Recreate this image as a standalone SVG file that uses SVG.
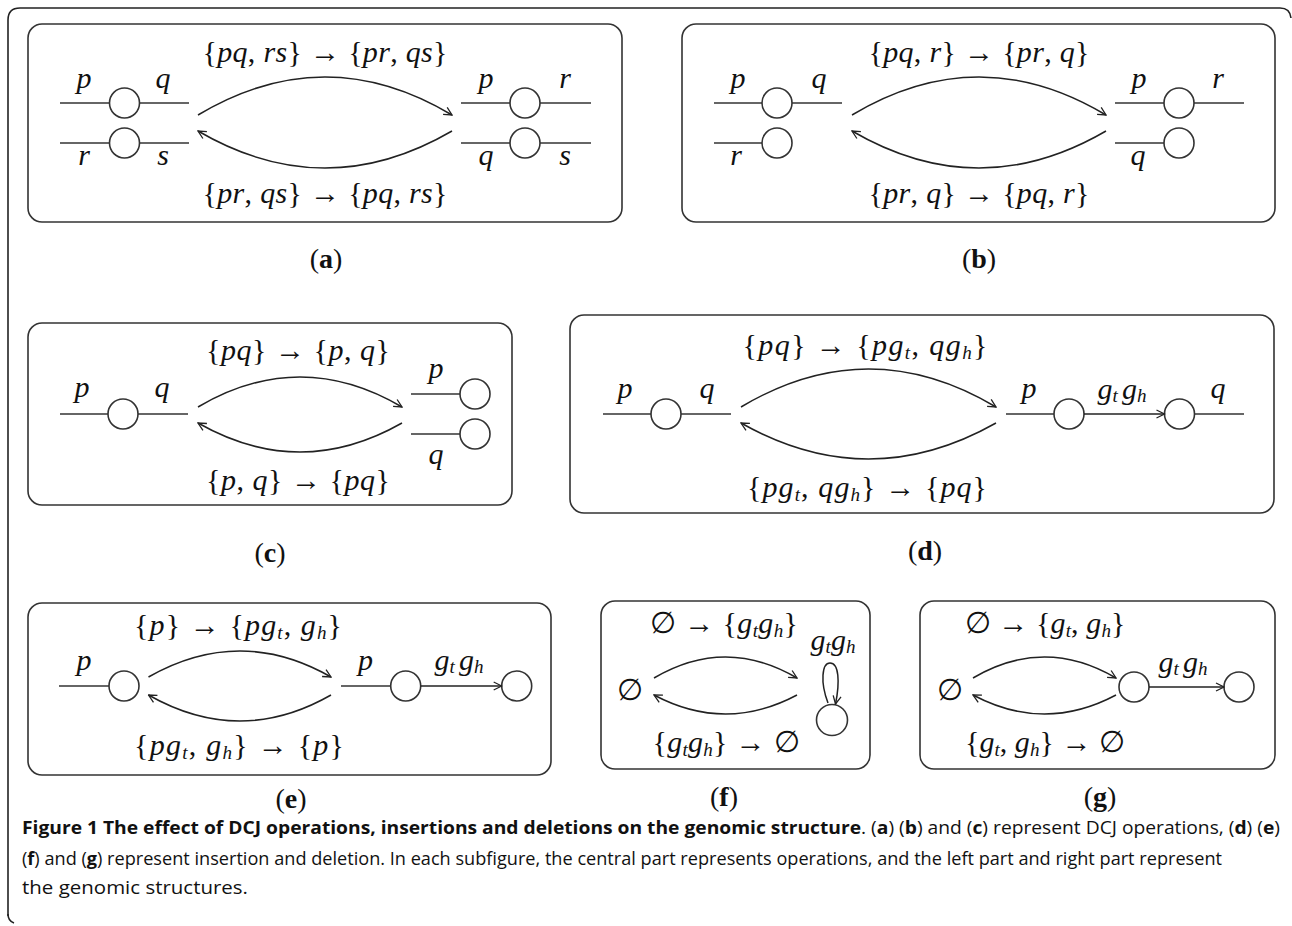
<svg xmlns="http://www.w3.org/2000/svg" width="1292" height="926" viewBox="0 0 1292 926">
<style>
.frame{fill:none;stroke:#222;stroke-width:1.6}
.box{fill:none;stroke:#333;stroke-width:1.6}
.ln{stroke:#333;stroke-width:1.6;fill:none}
.nd{fill:#fff;stroke:#333;stroke-width:1.6}
.arc{fill:none;stroke:#222;stroke-width:1.5}
.m{font-family:"Liberation Serif",serif;font-size:30px;fill:#111}
.v{font-family:"Liberation Serif",serif;font-size:30px;font-style:italic;fill:#111;text-anchor:middle}
.i{font-style:italic}
.sub{font-size:19px}
.lab{font-family:"Liberation Serif",serif;font-size:28px;fill:#111;text-anchor:middle}
.cap{font-family:"Open Sans","Liberation Sans",sans-serif;font-size:18px;fill:#111}
.b{font-weight:bold}
</style>
<defs>
<marker id="arr" viewBox="0 0 10 10" refX="9" refY="5" markerWidth="10" markerHeight="10" markerUnits="userSpaceOnUse" orient="auto">
<path d="M1,1 L9,5 L1,9" fill="none" stroke="#222" stroke-width="1.3"/>
</marker>
</defs>

<path class="frame" d="M8,916 L8,20 Q8,8 20,8 L1280,8 Q1290,8 1291,18"/>
<path class="frame" d="M8,914 Q8,921 14,923"/>

<!-- (a) -->
<g id="panel-a">
<rect class="box" x="28" y="24" width="594" height="198" rx="14"/>
<g id="a-left-top"><line class="ln" x1="60" y1="103" x2="189" y2="103"/><circle class="nd" cx="124.5" cy="103" r="15"/><text class="v" x="84" y="88">p</text><text class="v" x="163" y="88">q</text></g>
<g id="a-left-bot"><line class="ln" x1="60" y1="143" x2="189" y2="143"/><circle class="nd" cx="124.5" cy="143" r="15"/><text class="v" x="84" y="165">r</text><text class="v" x="163" y="165">s</text></g>
<g id="a-right-top"><line class="ln" x1="461" y1="103" x2="591" y2="103"/><circle class="nd" cx="525" cy="103" r="15"/><text class="v" x="486" y="88">p</text><text class="v" x="565" y="88">r</text></g>
<g id="a-right-bot"><line class="ln" x1="461" y1="143" x2="591" y2="143"/><circle class="nd" cx="525" cy="143" r="15"/><text class="v" x="486" y="165">q</text><text class="v" x="565" y="165">s</text></g>
<g id="a-connectors">
<path class="arc" d="M198,115 Q325,39 452,115" marker-end="url(#arr)"/>
<path class="arc" d="M452,131 Q325,205 198,131" marker-end="url(#arr)"/>
</g>
<text class="m" x="325" y="62" text-anchor="middle" textLength="245">{<tspan class="i">pq</tspan>, <tspan class="i">rs</tspan>} → {<tspan class="i">pr</tspan>, <tspan class="i">qs</tspan>}</text>
<text class="m" x="325" y="203" text-anchor="middle" textLength="245">{<tspan class="i">pr</tspan>, <tspan class="i">qs</tspan>} → {<tspan class="i">pq</tspan>, <tspan class="i">rs</tspan>}</text>
<text class="lab" x="326" y="268">(<tspan class="b">a</tspan>)</text>
</g>

<!-- (b) -->
<g id="panel-b">
<rect class="box" x="682" y="24" width="593" height="198" rx="14"/>
<g id="b-left-top"><line class="ln" x1="714" y1="103" x2="842" y2="103"/><circle class="nd" cx="777" cy="103" r="15"/><text class="v" x="738" y="88">p</text><text class="v" x="819" y="88">q</text></g>
<g id="b-left-bot"><line class="ln" x1="714" y1="143" x2="777" y2="143"/><circle class="nd" cx="777" cy="143" r="15"/><text class="v" x="736" y="165">r</text></g>
<g id="b-right-top"><line class="ln" x1="1115" y1="103" x2="1244" y2="103"/><circle class="nd" cx="1179" cy="103" r="15"/><text class="v" x="1139" y="88">p</text><text class="v" x="1218" y="88">r</text></g>
<g id="b-right-bot"><line class="ln" x1="1115" y1="143" x2="1179" y2="143"/><circle class="nd" cx="1179" cy="143" r="15"/><text class="v" x="1138" y="165">q</text></g>
<g id="b-connectors">
<path class="arc" d="M852,115 Q979,39 1106,115" marker-end="url(#arr)"/>
<path class="arc" d="M1106,131 Q979,205 852,131" marker-end="url(#arr)"/>
</g>
<text class="m" x="979" y="62" text-anchor="middle" textLength="221">{<tspan class="i">pq</tspan>, <tspan class="i">r</tspan>} → {<tspan class="i">pr</tspan>, <tspan class="i">q</tspan>}</text>
<text class="m" x="979" y="203" text-anchor="middle" textLength="221">{<tspan class="i">pr</tspan>, <tspan class="i">q</tspan>} → {<tspan class="i">pq</tspan>, <tspan class="i">r</tspan>}</text>
<text class="lab" x="979" y="268">(<tspan class="b">b</tspan>)</text>
</g>

<!-- (c) -->
<g id="panel-c">
<rect class="box" x="28" y="323" width="484" height="182" rx="14"/>
<g id="c-left"><line class="ln" x1="60" y1="414" x2="188" y2="414"/><circle class="nd" cx="123" cy="414" r="15"/><text class="v" x="82" y="397">p</text><text class="v" x="162" y="397">q</text></g>
<g id="c-right-top"><line class="ln" x1="411" y1="394" x2="475" y2="394"/><circle class="nd" cx="475" cy="394" r="15"/><text class="v" x="436" y="378">p</text></g>
<g id="c-right-bot"><line class="ln" x1="411" y1="434" x2="475" y2="434"/><circle class="nd" cx="475" cy="434" r="15"/><text class="v" x="436" y="464">q</text></g>
<g id="c-connectors">
<path class="arc" d="M198,407 Q300,347 402,407" marker-end="url(#arr)"/>
<path class="arc" d="M402,423 Q300,481 198,423" marker-end="url(#arr)"/>
</g>
<text class="m" x="298" y="360" text-anchor="middle" textLength="184">{<tspan class="i">pq</tspan>} → {<tspan class="i">p</tspan>, <tspan class="i">q</tspan>}</text>
<text class="m" x="298" y="490" text-anchor="middle" textLength="184">{<tspan class="i">p</tspan>, <tspan class="i">q</tspan>} → {<tspan class="i">pq</tspan>}</text>
<text class="lab" x="270" y="562">(<tspan class="b">c</tspan>)</text>
</g>

<!-- (d) -->
<g id="panel-d">
<rect class="box" x="570" y="315" width="704" height="198" rx="14"/>
<g id="d-left"><line class="ln" x1="603" y1="414" x2="731" y2="414"/><circle class="nd" cx="666" cy="414" r="15"/><text class="v" x="625" y="398">p</text><text class="v" x="707" y="398">q</text></g>
<g id="d-right"><line class="ln" x1="1006" y1="414" x2="1069" y2="414"/><line class="ln" x1="1180" y1="414" x2="1244" y2="414"/><circle class="nd" cx="1069" cy="414" r="15"/><circle class="nd" cx="1179.5" cy="414" r="15"/><text class="v" x="1029" y="398">p</text><text class="v" x="1218" y="398">q</text></g>
<g id="d-connectors">
<path class="arc" d="M741,407 Q868.5,331 996,407" marker-end="url(#arr)"/>
<path class="arc" d="M996,423 Q868.5,495 741,423" marker-end="url(#arr)"/>
<line class="arc" x1="1084" y1="414" x2="1164.5" y2="414" marker-end="url(#arr)"/>
</g>
<text class="v" x="1122" y="399"><tspan>g</tspan><tspan class="sub" dy="3">t</tspan><tspan dx="4" dy="-3">g</tspan><tspan class="sub" dy="3">h</tspan></text>
<text class="m" x="865" y="355" text-anchor="middle" textLength="245">{<tspan class="i">pq</tspan>} → {<tspan class="i">pg</tspan><tspan class="i sub" dy="4">t</tspan><tspan dy="-4">, </tspan><tspan class="i">qg</tspan><tspan class="i sub" dy="4">h</tspan><tspan dy="-4">}</tspan></text>
<text class="m" x="867" y="497" text-anchor="middle" textLength="240">{<tspan class="i">pg</tspan><tspan class="i sub" dy="4">t</tspan><tspan dy="-4">, </tspan><tspan class="i">qg</tspan><tspan class="i sub" dy="4">h</tspan><tspan dy="-4">} → {</tspan><tspan class="i">pq</tspan>}</text>
<text class="lab" x="925" y="560">(<tspan class="b">d</tspan>)</text>
</g>

<!-- (e) -->
<g id="panel-e">
<rect class="box" x="28" y="603" width="523" height="172" rx="14"/>
<g id="e-left"><line class="ln" x1="59" y1="686" x2="124" y2="686"/><circle class="nd" cx="124" cy="686" r="15"/><text class="v" x="84" y="670">p</text></g>
<g id="e-right"><line class="ln" x1="341" y1="686" x2="405.7" y2="686"/><circle class="nd" cx="405.7" cy="686" r="15"/><circle class="nd" cx="516.7" cy="686" r="15"/><text class="v" x="365.5" y="670">p</text></g>
<g id="e-connectors">
<path class="arc" d="M148.5,677 Q240,625 331,677" marker-end="url(#arr)"/>
<path class="arc" d="M331,695 Q240,747 148.5,695" marker-end="url(#arr)"/>
<line class="arc" x1="420.7" y1="686" x2="501.7" y2="686" marker-end="url(#arr)"/>
</g>
<text class="v" x="459" y="670"><tspan>g</tspan><tspan class="sub" dy="3">t</tspan><tspan dx="4" dy="-3">g</tspan><tspan class="sub" dy="3">h</tspan></text>
<text class="m" x="238" y="635" text-anchor="middle" textLength="208">{<tspan class="i">p</tspan>} → {<tspan class="i">pg</tspan><tspan class="i sub" dy="4">t</tspan><tspan dy="-4">, </tspan><tspan class="i">g</tspan><tspan class="i sub" dy="4">h</tspan><tspan dy="-4">}</tspan></text>
<text class="m" x="239" y="755" text-anchor="middle" textLength="210">{<tspan class="i">pg</tspan><tspan class="i sub" dy="4">t</tspan><tspan dy="-4">, </tspan><tspan class="i">g</tspan><tspan class="i sub" dy="4">h</tspan><tspan dy="-4">} → {</tspan><tspan class="i">p</tspan>}</text>
<text class="lab" x="291" y="808">(<tspan class="b">e</tspan>)</text>
</g>

<!-- (f) -->
<g id="panel-f">
<rect class="box" x="601" y="601" width="269" height="168" rx="14"/>
<g id="f-empty"><text class="m" x="630" y="700" text-anchor="middle">∅</text></g>
<g id="f-node"><circle class="nd" cx="832" cy="720" r="15.5"/></g>
<g id="f-connectors">
<path class="arc" d="M654,678 Q725.5,636 797,678" marker-end="url(#arr)"/>
<path class="arc" d="M797,695 Q725.5,733 654,695" marker-end="url(#arr)"/>
<path class="arc" d="M828,703 C820,682 822,663 830,663 C839,663 840,682 835.5,704" marker-end="url(#arr)"/>
</g>
<text class="v" x="833" y="650"><tspan>g</tspan><tspan class="sub" dy="3">t</tspan><tspan dy="-3">g</tspan><tspan class="sub" dy="3">h</tspan></text>
<text class="m" x="724" y="633" text-anchor="middle" textLength="148">∅ → {<tspan class="i">g</tspan><tspan class="i sub" dy="4">t</tspan><tspan class="i" dy="-4">g</tspan><tspan class="i sub" dy="4">h</tspan><tspan dy="-4">}</tspan></text>
<text class="m" x="726" y="752" text-anchor="middle" textLength="147">{<tspan class="i">g</tspan><tspan class="i sub" dy="4">t</tspan><tspan class="i" dy="-4">g</tspan><tspan class="i sub" dy="4">h</tspan><tspan dy="-4">} → ∅</tspan></text>
<text class="lab" x="724" y="806">(<tspan class="b">f</tspan>)</text>
</g>

<!-- (g) -->
<g id="panel-g">
<rect class="box" x="920" y="601" width="355" height="168" rx="14"/>
<g id="g-empty"><text class="m" x="950" y="700" text-anchor="middle">∅</text></g>
<g id="g-node1"><circle class="nd" cx="1134" cy="687" r="15"/></g>
<g id="g-node2"><circle class="nd" cx="1239" cy="687" r="15"/></g>
<g id="g-connectors">
<path class="arc" d="M973,678 Q1044.5,636 1116,678" marker-end="url(#arr)"/>
<path class="arc" d="M1116,695 Q1044.5,733 973,695" marker-end="url(#arr)"/>
<line class="arc" x1="1149" y1="687" x2="1224" y2="687" marker-end="url(#arr)"/>
</g>
<text class="v" x="1183" y="672"><tspan>g</tspan><tspan class="sub" dy="3">t</tspan><tspan dx="4" dy="-3">g</tspan><tspan class="sub" dy="3">h</tspan></text>
<text class="m" x="1045" y="633" text-anchor="middle" textLength="161">∅ → {<tspan class="i">g</tspan><tspan class="i sub" dy="4">t</tspan><tspan dy="-4">, </tspan><tspan class="i">g</tspan><tspan class="i sub" dy="4">h</tspan><tspan dy="-4">}</tspan></text>
<text class="m" x="1045" y="752" text-anchor="middle" textLength="160">{<tspan class="i">g</tspan><tspan class="i sub" dy="4">t</tspan><tspan dy="-4">, </tspan><tspan class="i">g</tspan><tspan class="i sub" dy="4">h</tspan><tspan dy="-4">} → ∅</tspan></text>
<text class="lab" x="1100" y="806">(<tspan class="b">g</tspan>)</text>
</g>

<!-- caption -->
<g id="caption">
<text class="cap" x="22" y="834" textLength="1258" lengthAdjust="spacingAndGlyphs"><tspan class="b">Figure 1 The effect of DCJ operations, insertions and deletions on the genomic structure</tspan>. (<tspan class="b">a</tspan>) (<tspan class="b">b</tspan>) and (<tspan class="b">c</tspan>) represent DCJ operations, (<tspan class="b">d</tspan>) (<tspan class="b">e</tspan>)</text>
<text class="cap" x="22" y="865" textLength="1200" lengthAdjust="spacingAndGlyphs">(<tspan class="b">f</tspan>) and (<tspan class="b">g</tspan>) represent insertion and deletion. In each subfigure, the central part represents operations, and the left part and right part represent</text>
<text class="cap" x="22" y="894" textLength="226" lengthAdjust="spacingAndGlyphs">the genomic structures.</text>
</g>
</svg>
